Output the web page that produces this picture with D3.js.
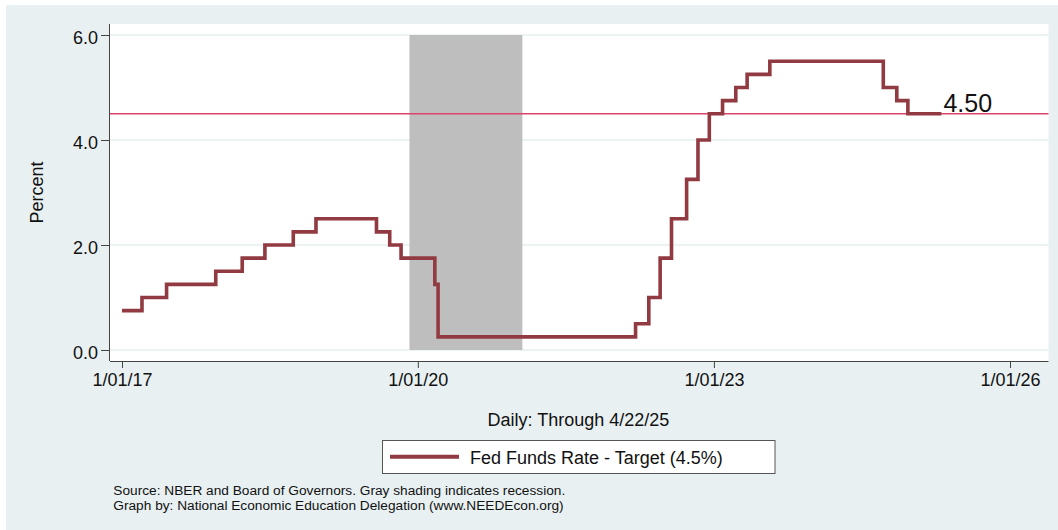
<!DOCTYPE html>
<html>
<head>
<meta charset="utf-8">
<script src="https://cdn.jsdelivr.net/npm/d3@7"></script>
<style>
  html, body { margin: 0; padding: 0; background: #ffffff; }
  svg { display: block; font-family: "Liberation Sans", Arial, Helvetica, sans-serif; }
</style>
</head>
<body>
<svg id="chart" width="1058" height="530"></svg>
<script>
// ---- Data ----
const stepDates = ["2017-01-01","2017-03-16","2017-06-15","2017-12-14","2018-03-22","2018-06-14","2018-09-27","2018-12-20","2019-08-01","2019-09-19","2019-10-31","2020-03-04","2020-03-16","2022-03-17","2022-05-05","2022-06-16","2022-07-28","2022-09-22","2022-11-03","2022-12-15","2023-02-02","2023-03-23","2023-05-04","2023-07-27","2024-09-19","2024-11-08","2024-12-19","2025-04-22"];
const fedTarget = [0.75,1.00,1.25,1.50,1.75,2.00,2.25,2.50,2.25,2.00,1.75,1.25,0.25,0.50,1.00,1.75,2.50,3.25,4.00,4.50,4.75,5.00,5.25,5.50,5.00,4.75,4.50,4.50];
const recession = ["2019-12-01","2021-01-22"];
const targetLevel = 4.5;
const lastLabel = "4.50";
const xTickDates = ["2017-01-01","2020-01-01","2023-01-01","2026-01-01"];
const xTickLabels = ["1/01/17","1/01/20","1/01/23","1/01/26"];
const yTickValues = [0, 2, 4, 6];
const yTickLabels = ["0.0","2.0","4.0","6.0"];
const yAxisTitle = "Percent";
const xAxisTitle = "Daily: Through 4/22/25";
const legendLabel = "Fed Funds Rate - Target (4.5%)";
const notes = ["Source: NBER and Board of Governors. Gray shading indicates recession.",
               "Graph by: National Economic Education Delegation (www.NEEDEcon.org)"];

// ---- Setup ----
const parse = d3.utcParse("%Y-%m-%d");
const svg = d3.select("#chart");
const FONT = "\"Liberation Sans\", Arial, Helvetica, sans-serif";

const plot = { left: 110, right: 1048.5, top: 24, bottom: 361 };

const x = d3.scaleUtc().domain([parse("2017-01-01"), parse("2026-01-01")]).range([122, 1010]);
const y = d3.scaleLinear().domain([0, 6]).range([350, 35]);

// outer background
svg.append("rect").attr("x", 6).attr("y", 5).attr("width", 1052).attr("height", 525).attr("fill", "#e8f0f2");
// plot region
svg.append("rect").attr("x", plot.left).attr("y", plot.top)
  .attr("width", plot.right - plot.left).attr("height", plot.bottom - plot.top).attr("fill", "#ffffff");

// gridlines
svg.append("g").selectAll("line").data(yTickValues).join("line")
  .attr("x1", plot.left).attr("x2", plot.right)
  .attr("y1", d => y(d)).attr("y2", d => y(d))
  .attr("stroke", "#e6efef").attr("stroke-width", 1.5);

// recession shading
svg.append("rect")
  .attr("x", x(parse(recession[0]))).attr("y", y(6))
  .attr("width", x(parse(recession[1])) - x(parse(recession[0])))
  .attr("height", y(0) - y(6))
  .attr("fill", "#bebebe");

// target line
svg.append("line")
  .attr("x1", plot.left).attr("x2", plot.right)
  .attr("y1", y(targetLevel)).attr("y2", y(targetLevel))
  .attr("stroke", "#d9466a").attr("stroke-width", 1.6);

// step series
const series = stepDates.map((d, i) => ({ date: parse(d), value: fedTarget[i] }));
const line = d3.line().x(d => x(d.date)).y(d => y(d.value)).curve(d3.curveStepAfter);
svg.append("path").datum(series)
  .attr("d", line).attr("fill", "none")
  .attr("stroke", "#923a41").attr("stroke-width", 3.6)
  .attr("stroke-linejoin", "miter");

// last value label
const last = series[series.length - 1];
svg.append("text")
  .attr("x", x(last.date) + 2).attr("y", y(last.value) - 1.5)
  .attr("font-size", 25).attr("fill", "#111").attr("font-family", FONT)
  .text(lastLabel);

// axes
const xAxis = d3.axisBottom(x)
  .tickValues(xTickDates.map(parse))
  .tickFormat((d, i) => xTickLabels[i])
  .tickSize(7).tickPadding(5).tickSizeOuter(0);
const gx = svg.append("g").attr("transform", `translate(0,${plot.bottom})`).call(xAxis);
gx.select(".domain").attr("d", `M${plot.left},0.5H${plot.right}`).attr("stroke", "#444");
gx.selectAll(".tick line").attr("stroke", "#444");
gx.selectAll(".tick text").attr("font-size", 18).attr("font-family", FONT).attr("fill", "#111");

const yAxis = d3.axisLeft(y)
  .tickValues(yTickValues)
  .tickFormat((d, i) => yTickLabels[i])
  .tickSize(9).tickPadding(3).tickSizeOuter(0);
const gy = svg.append("g").attr("transform", `translate(${plot.left},0)`).call(yAxis);
gy.select(".domain").attr("d", `M-0.5,${plot.top}V${plot.bottom}`).attr("stroke", "#444");
gy.selectAll(".tick line").attr("stroke", "#444");
gy.selectAll(".tick text").attr("font-size", 18).attr("font-family", FONT).attr("fill", "#111").attr("dy", "0.46em");

// axis titles
svg.append("text")
  .attr("transform", `translate(43,192.5) rotate(-90)`)
  .attr("text-anchor", "middle").attr("font-size", 18).attr("font-family", FONT).attr("fill", "#111")
  .text(yAxisTitle);
svg.append("text")
  .attr("x", 578.5).attr("y", 426).attr("text-anchor", "middle")
  .attr("font-size", 18).attr("font-family", FONT).attr("fill", "#111")
  .text(xAxisTitle);

// legend
const lg = svg.append("g");
lg.append("rect").attr("x", 382.5).attr("y", 440.5).attr("width", 392.5).attr("height", 33)
  .attr("fill", "#ffffff").attr("stroke", "#555").attr("stroke-width", 1);
lg.append("line").attr("x1", 390).attr("x2", 459).attr("y1", 456.8).attr("y2", 456.8)
  .attr("stroke", "#923a41").attr("stroke-width", 4);
lg.append("text").attr("x", 470).attr("y", 464.3)
  .attr("font-size", 18).attr("font-family", FONT).attr("fill", "#111")
  .text(legendLabel);

// notes
svg.append("g").selectAll("text").data(notes).join("text")
  .attr("x", 113.3).attr("y", (d, i) => 495 + i * 14.5)
  .attr("font-size", 13.7).attr("font-family", FONT).attr("fill", "#111")
  .text(d => d);
</script>
</body>
</html>
